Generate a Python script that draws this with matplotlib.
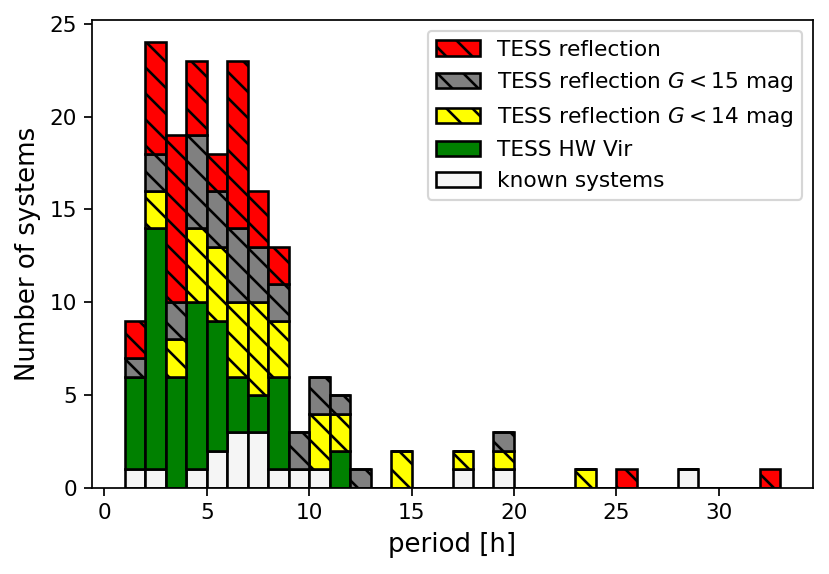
import matplotlib
matplotlib.use("Agg")
import matplotlib.pyplot as plt
import numpy as np

plt.rcParams["hatch.linewidth"] = 1.2

# bin edges (period in hours), width 1 h
bin_edges = list(range(1, 34))

# counts per bin (bins 1-2, 2-3, ..., 32-33)
known = [1, 1, 0, 1, 2, 3, 3, 1, 1, 1, 0, 0, 0, 0, 0, 0, 1, 0, 1, 0, 0, 0, 0, 0, 0, 0, 0, 1, 0, 0, 0, 0]
hwvir = [5, 13, 6, 9, 7, 3, 2, 5, 0, 0, 2, 0, 0, 0, 0, 0, 0, 0, 0, 0, 0, 0, 0, 0, 0, 0, 0, 0, 0, 0, 0, 0]
g14   = [0, 2, 2, 4, 4, 4, 5, 3, 0, 3, 2, 0, 0, 2, 0, 0, 1, 0, 1, 0, 0, 0, 1, 0, 0, 0, 0, 0, 0, 0, 0, 0]
g15   = [1, 2, 2, 5, 3, 4, 3, 2, 2, 2, 1, 1, 0, 0, 0, 0, 0, 0, 1, 0, 0, 0, 0, 0, 0, 0, 0, 0, 0, 0, 0, 0]
refl  = [2, 6, 9, 4, 2, 9, 3, 2, 0, 0, 0, 0, 0, 0, 0, 0, 0, 0, 0, 0, 0, 0, 0, 0, 1, 0, 0, 0, 0, 0, 0, 1]

series = [
    ("known systems", known, "whitesmoke", None),
    ("TESS HW Vir", hwvir, "green", None),
    (r"TESS reflection $G < 14$ mag", g14, "yellow", "\\\\"),
    (r"TESS reflection $G < 15$ mag", g15, "grey", "\\\\"),
    ("TESS reflection", refl, "red", "\\\\"),
]

DPI = 156
fig = plt.figure(figsize=(829 / DPI, 574 / DPI), dpi=DPI)
ax = fig.add_axes([92 / 829, 1 - 488 / 574, (813 - 92) / 829, (488 - 20) / 574])

left = np.array(bin_edges[:-1], dtype=float)
width = np.diff(bin_edges)
bottom = np.zeros(len(left))
handles = []
for label, vals, color, hatch in series:
    vals = np.array(vals, dtype=float)
    bars = ax.bar(left, vals, width=width, bottom=bottom, align="edge",
                  color=color, edgecolor="black", linewidth=1.2,
                  hatch=hatch, label=label)
    handles.append(bars)
    bottom = bottom + vals

ax.set_xlabel("period [h]", fontsize=12)
ax.set_ylabel("Number of systems", fontsize=12)
ax.set_xticks([0, 5, 10, 15, 20, 25, 30])
ax.set_yticks([0, 5, 10, 15, 20, 25])

ax.legend(handles[::-1], [s[0] for s in series][::-1], loc="upper right")

fig.savefig("out.png", dpi=DPI)
